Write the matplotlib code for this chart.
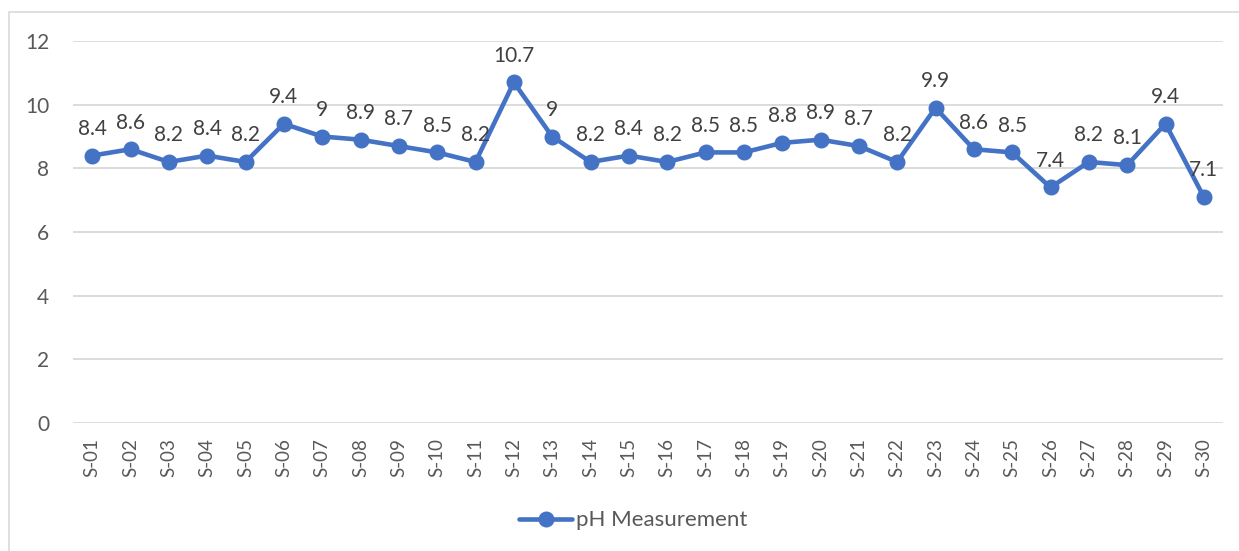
import matplotlib.pyplot as plt
from matplotlib.patches import Rectangle

# ================== DATA ==================
samples = [f"S-{i:02d}" for i in range(1, 31)]
ph_values = [8.4, 8.6, 8.2, 8.4, 8.2, 9.4, 9, 8.9, 8.7, 8.5,
             8.2, 10.7, 9, 8.2, 8.4, 8.2, 8.5, 8.5, 8.8, 8.9,
             8.7, 8.2, 9.9, 8.6, 8.5, 7.4, 8.2, 8.1, 9.4, 7.1]
y_ticks = [0, 2, 4, 6, 8, 10, 12]
# ==========================================

plt.rcParams['font.family'] = ['Lato', 'DejaVu Sans']

W, H = 1239, 551
fig = plt.figure(figsize=(W / 100, H / 100), dpi=100)
fig.patch.set_facecolor("white")

# chart frame (light grey border, right/bottom edges run off the image)
frame = Rectangle((8.5 / W, -0.5), 2, 1.5 - 11.5 / H, transform=fig.transFigure,
                  fill=False, ec="#d9d9d9", lw=1.2)
fig.add_artist(frame)

ax = fig.add_axes([73 / W, 1 - 423 / H, (1223 - 73) / W, (423 - 41) / H])
x = list(range(len(samples)))

ax.plot(x, ph_values, color="#4472C4", lw=3.3, marker="o", markersize=10.5,
        label="pH Measurement", zorder=3, solid_capstyle="round")

for xi, v in zip(x, ph_values):
    ax.annotate(f"{v:g}", (xi, v), xytext=(0, 12), textcoords="offset points",
                ha="center", va="bottom", fontsize=15, color="#404040", zorder=4)

ax.set_xlim(-0.5, len(samples) - 0.5)
ax.set_ylim(0, 12)
ax.set_yticks(y_ticks)
ax.set_xticks(x)
ax.set_xticklabels(samples, rotation=90)
ax.tick_params(axis="both", length=0, colors="#595959")
ax.tick_params(axis="x", labelsize=13.5, pad=11)
ax.tick_params(axis="y", labelsize=15, pad=17)
ax.grid(axis="y", color="#d9d9d9", lw=1.3)
ax.set_axisbelow(True)
for s in ax.spines.values():
    s.set_visible(False)

leg = ax.legend(loc="center", bbox_to_anchor=(0.487, -0.255), frameon=False,
                fontsize=16, handlelength=2.4, handletextpad=0.15)
for t in leg.get_texts():
    t.set_color("#595959")

fig.savefig("out.png", dpi=100)
